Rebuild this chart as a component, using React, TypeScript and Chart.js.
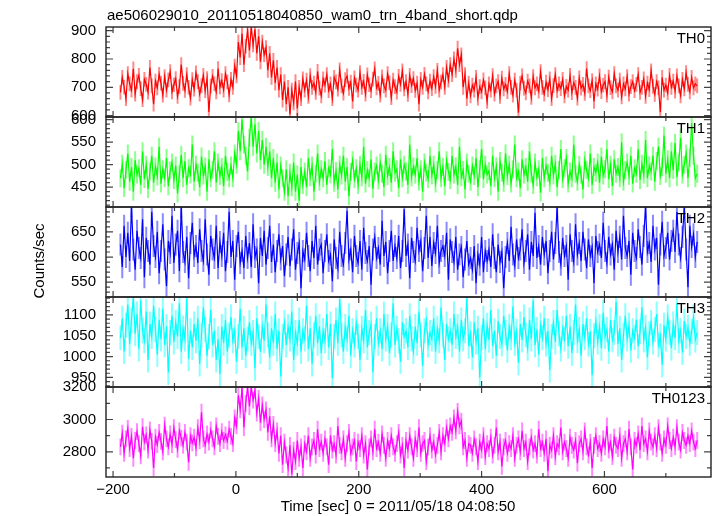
import React, { useEffect, useRef } from "react";
import { Chart, registerables } from "chart.js";

Chart.register(...registerables);

const TITLE = "ae506029010_20110518040850_wam0_trn_4band_short.qdp";
const X_TITLE = "Time [sec] 0 = 2011/05/18 04:08:50";
const Y_TITLE = "Counts/sec";
const PANEL_NAMES = ["TH0", "TH1", "TH2", "TH3", "TH0123"];

// time bins (sec)
const TIME_START = -188;
const TIME_STEP = 3;

const TH0 = [
  682, 735, 701, 660, 748, 712, 690, 765, 676, 720,
  742, 695, 656, 728, 710, 683, 770, 705, 640, 722,
  698, 746, 715, 672, 738, 690, 726, 755, 684, 709,
  731, 668, 702, 780, 714, 689, 745, 700, 662, 727,
  693, 751, 720, 676, 706, 742, 688, 731, 613, 704,
  739, 712, 684, 766, 701, 724, 690, 748, 719, 673,
  728, 700, 775, 740, 860, 805, 890, 780, 845, 900,
  830, 912, 850, 905, 820, 880, 790, 860, 815, 840,
  760, 820, 735, 795, 715, 770, 690, 745, 655, 720,
  640, 700, 605, 690, 645, 720, 625, 700, 660, 730,
  690, 725, 668, 741, 700, 715, 682, 756, 697, 670,
  730, 708, 745, 688, 712, 660, 735, 719, 693, 762,
  705, 679, 727, 740, 696, 718, 650, 733, 708, 690,
  752, 700, 721, 676, 744, 709, 688, 729, 765, 698,
  714, 672, 737, 705, 690, 748, 716, 663, 725, 702,
  683, 739, 710, 758, 694, 720, 675, 742, 706, 731,
  689, 715, 640, 728, 700, 746, 712, 684, 722, 695,
  738, 703, 760, 690, 718, 745, 700, 770, 725, 780,
  745, 800, 760, 838, 780, 815, 700, 745, 660, 715,
  670, 708, 690, 735, 662, 702, 684, 726, 698, 650,
  712, 690, 741, 676, 705, 720, 668, 732, 694, 710,
  685, 748, 700, 672, 725, 690, 610, 715, 740, 697,
  680, 722, 705, 664, 738, 698, 712, 686, 755, 700,
  676, 718, 692, 730, 660, 706, 745, 688, 712, 695,
  728, 670, 703, 690, 742, 681, 716, 700, 662, 733,
  697, 710, 678, 766, 705, 688, 724, 650, 712, 693,
  740, 685, 708, 720, 672, 736, 699, 684, 748, 705,
  690, 725, 666, 712, 694, 738, 676, 702, 720, 688,
  710, 745, 682, 700, 730, 668, 715, 692, 758, 703,
  675, 720, 698, 612, 735, 690, 708, 680, 742, 700,
  722, 686, 740, 705, 670, 728, 694, 752, 710, 684,
  735, 698, 712, 705,
];

const TH1 = [
  470, 502, 448, 488, 525, 462, 495, 440, 510, 478,
  492, 455, 530, 468, 500, 446, 485, 520, 460, 496,
  474, 540, 458, 490, 470, 515, 452, 487, 505, 466,
  498, 436, 480, 522, 470, 508, 455, 492, 478, 545,
  462, 500, 482, 450, 518, 476, 496, 440, 512, 470,
  488, 530, 460, 505, 475, 495, 452, 520, 484, 470,
  498, 470, 525, 500, 575, 530, 600, 545, 520, 485,
  560, 604, 540, 590, 525, 575, 510, 555, 500, 540,
  495, 530, 470, 515, 460, 505, 445, 498, 470, 440,
  490, 430, 482, 450, 505, 440, 478, 420, 495, 455,
  485, 450, 515, 472, 498, 440, 480, 525, 462, 490,
  470, 508, 455, 492, 478, 535, 460, 486, 445, 500,
  476, 520, 462, 495, 430, 484, 510, 468, 492, 455,
  500, 472, 540, 458, 488, 470, 512, 446, 485, 498,
  465, 505, 480, 450, 522, 475, 495, 460, 530, 482,
  490, 448, 512, 470, 500, 485, 455, 545, 472, 496,
  478, 515, 462, 490, 440, 505, 482, 468, 520, 476,
  500, 458, 488, 530, 470, 495, 452, 510, 484, 466,
  520, 478, 496, 455, 540, 472, 488, 445, 505, 480,
  462, 498, 475, 515, 450, 490, 535, 468, 500, 478,
  486, 452, 520, 470, 496, 440, 508, 482, 460, 525,
  475, 500, 458, 490, 545, 470, 485, 448, 512, 478,
  495, 462, 530, 480, 455, 505, 472, 490, 438, 515,
  470, 498, 482, 460, 520, 476, 502, 450, 488, 535,
  468, 492, 515, 458, 485, 470, 545, 480, 462, 500,
  478, 445, 510, 488, 470, 525, 455, 495, 482, 505,
  460, 518, 476, 490, 535, 468, 500, 452, 512, 480,
  495, 470, 550, 462, 488, 505, 475, 520, 458, 492,
  480, 535, 466, 502, 478, 555, 470, 498, 485, 520,
  462, 508, 540, 475, 495, 565, 480, 512, 470, 530,
  488, 548, 472, 505, 560, 478, 500, 525, 470, 515,
  592, 520, 470, 480,
];

const TH2 = [
  625, 580, 662, 600, 648, 592, 700, 615, 575, 652,
  618, 598, 675, 560, 638, 612, 585, 690, 622, 600,
  650, 568, 612, 665, 595, 542, 632, 608, 682, 588,
  625, 652, 572, 700, 610, 590, 640, 558, 628, 668,
  602, 622, 588, 655, 612, 592, 675, 605, 565, 642,
  615, 598, 662, 578, 630, 602, 648, 572, 610, 690,
  600, 632, 555, 622, 650, 588, 612, 578, 642, 598,
  628, 580, 665, 600, 615, 548, 638, 602, 652, 585,
  618, 662, 590, 625, 570, 612, 645, 595, 622, 562,
  605, 640, 582, 615, 655, 575, 608, 628, 538, 612,
  595, 648, 602, 572, 632, 598, 662, 585, 615, 625,
  568, 612, 645, 592, 605, 552, 635, 598, 578, 650,
  602, 585, 628, 692, 595, 615, 570, 642, 602, 588,
  632, 575, 658, 608, 592, 622, 545, 615, 640, 598,
  618, 585, 672, 602, 630, 568, 612, 652, 592, 622,
  598, 642, 578, 612, 695, 602, 625, 558, 638, 610,
  592, 658, 612, 632, 572, 618, 682, 598, 640, 582,
  628, 608, 662, 588, 612, 622, 602, 648, 555, 635,
  610, 590, 640, 575, 605, 620, 560, 595, 632, 585,
  598, 575, 622, 548, 605, 585, 640, 570, 612, 592,
  615, 580, 645, 598, 570, 625, 590, 610, 538, 600,
  628, 592, 660, 605, 582, 635, 598, 615, 655, 588,
  612, 645, 575, 630, 602, 688, 598, 622, 585, 640,
  605, 632, 568, 612, 650, 595, 628, 700, 610, 585,
  638, 602, 622, 555, 645, 612, 590, 665, 605, 628,
  592, 650, 615, 578, 635, 602, 620, 548, 642, 610,
  625, 598, 668, 612, 588, 640, 605, 625, 575, 652,
  610, 640, 595, 682, 618, 602, 632, 565, 648, 612,
  598, 655, 620, 585, 642, 700, 610, 628, 590, 662,
  615, 638, 545, 625, 670, 602, 618, 648, 595, 632,
  652, 610, 690, 625, 598, 640, 700, 615, 540, 662,
  620, 645, 600, 630,
];

const TH3 = [
  1045, 1092, 1012, 1075, 1125, 1030, 1088, 1142, 1055, 1102,
  1018, 1135, 1062, 1038, 1108, 992, 1078, 1048, 1122, 1065,
  1005, 1088, 1042, 1115, 1028, 1072, 962, 1058, 1098, 1035,
  1082, 1048, 1128, 1012, 1068, 1042, 1140, 995, 1062, 1022,
  1078, 1038, 1092, 982, 1052, 1118, 1065, 1002, 1048, 1112,
  1028, 1062, 992, 1042, 958, 1072, 1032, 1088, 1012, 1052,
  1095, 1038, 1062, 988, 1048, 1115, 1022, 1068, 1002, 1042,
  1082, 1032, 1058, 972, 1092, 1048, 1012, 1072, 1038, 1125,
  1052, 998, 1068, 1032, 1102, 1018, 1062, 952, 1048, 1082,
  1028, 1072, 1042, 1108, 992, 1058, 1032, 1088, 1012, 1062,
  1042, 1122, 1018, 1068, 982, 1052, 1098, 1032, 1072, 1008,
  1062, 1038, 1102, 1022, 1078, 948, 1048, 1088, 1032, 1138,
  1052, 1012, 1072, 1042, 1098, 1002, 1062, 1028, 1082, 1048,
  992, 1068, 1038, 1112, 1022, 1058, 1078, 962, 1048, 1092,
  1032, 1062, 1018, 1102, 1042, 1072, 1008, 1052, 1128, 1028,
  1068, 1038, 988, 1082, 1048, 1062, 1022, 1098, 1042, 1012,
  1072, 1032, 1108, 1052, 978, 1062, 1088, 1028, 1058, 1042,
  1092, 1012, 1068, 1038, 1118, 1052, 992, 1078, 1042, 1062,
  1028, 1102, 1048, 1072, 1012, 1088, 1042, 1062, 1140, 1025,
  1055, 998, 1082, 1035, 1068, 950, 1045, 1092, 1018, 1075,
  1040, 1112, 1025, 1062, 1002, 1085, 1048, 1030, 1098, 1058,
  1015, 1072, 1045, 1120, 1032, 1060, 985, 1078, 1040, 1095,
  1052, 1020, 1088, 1042, 1135, 1028, 1065, 1005, 1075, 1045,
  1092, 1030, 1062, 968, 1048, 1082, 1035, 1112, 1055, 1018,
  1068, 1042, 1098, 1025, 1072, 1008, 1058, 1125, 1038, 1065,
  1002, 1078, 1045, 1092, 1030, 1060, 955, 1050, 1085, 1035,
  1072, 1020, 1105, 1048, 1065, 1012, 1088, 1040, 1058, 1132,
  1030, 1068, 992, 1052, 1098, 1042, 1075, 1015, 1062, 1045,
  1088, 1025, 1060, 1118, 1040, 1070, 998, 1055, 1082, 1035,
  1065, 1102, 1028, 1050, 980, 1075, 1042, 1095, 1058, 1020,
  1078, 1045, 1128, 1038, 1062, 1010, 1085, 1048, 1070, 1032,
  1060, 1095, 1040, 1058,
];

const TH0123 = [
  2830, 2915, 2790, 2880, 2945, 2820, 2895, 2760, 2870, 2925,
  2850, 2775, 2955, 2860, 2905, 2810, 2935, 2865, 2700, 2890,
  2845, 2920, 2865, 2800, 2965, 2880, 2830, 2910, 2845, 2950,
  2875, 2815, 2930, 2885, 2840, 2920, 2860, 2735, 2900, 2855,
  2890, 2825, 2950, 2870, 3045, 2880, 2840, 2910, 2860, 2935,
  2880, 2830, 2960, 2895, 2850, 2925, 2870, 2905, 2865, 2940,
  2895, 2850, 3010, 2960, 3150, 3060, 3200, 2950, 3100, 3200,
  3080, 3200, 3120, 3180, 3040, 3130, 2980, 3090, 3000, 3060,
  2920, 3020, 2880, 2970, 2850, 2930, 2790, 2900, 2720, 2860,
  2780, 2700, 2840, 2660, 2810, 2740, 2870, 2760, 2830, 2700,
  2850, 2800, 2900, 2760, 2830, 2870, 2780, 2940, 2820, 2860,
  2790, 2880, 2830, 2720, 2900, 2810, 2850, 2780, 2960, 2840,
  2800, 2880, 2760, 2850, 2920, 2790, 2830, 2870, 2740, 2860,
  2820, 2900, 2780, 2850, 2690, 2830, 2880, 2800, 2940, 2820,
  2860, 2790, 2910, 2840, 2760, 2870, 2820, 2900, 2830, 2790,
  2850, 2920, 2780, 2840, 2700, 2870, 2810, 2900, 2830, 2760,
  2880, 2820, 2950, 2790, 2850, 2870, 2740, 2830, 2900, 2810,
  2860, 2780, 2840, 2920, 2800, 2900, 2850, 2950, 2880, 2960,
  2920, 3010, 2930, 3050, 2960, 2990, 2830, 2870, 2760, 2850,
  2840, 2790, 2880, 2830, 2740, 2860, 2810, 2900, 2770, 2850,
  2820, 2890, 2780, 2840, 2950, 2800, 2860, 2710, 2830, 2870,
  2790, 2850, 2820, 2900, 2760, 2840, 2880, 2800, 2930, 2820,
  2860, 2740, 2830, 2890, 2810, 2850, 2780, 2940, 2820, 2860,
  2790, 2880, 2680, 2840, 2810, 2900, 2770, 2850, 2830, 2950,
  2800, 2860, 2820, 2760, 2890, 2840, 2810, 2870, 2730, 2850,
  2880, 2800, 2930, 2830, 2780, 2860, 2700, 2840, 2900, 2820,
  2850, 2790, 2880, 2830, 2960, 2810, 2860, 2770, 2890, 2840,
  2820, 2900, 2760, 2850, 2880, 2800, 2940, 2830, 2690, 2870,
  2840, 2910, 2810, 2960, 2850, 2880, 2800, 2930, 2860, 2830,
  2900, 2820, 2950, 2860, 2790, 2880, 2840, 2960, 2870, 2820,
  2890, 2830, 2950, 2860, 2810, 2920, 2870, 2840, 2900, 2850,
  2930, 2860, 2820, 2870,
];

const SERIES = [TH0, TH1, TH2, TH3, TH0123];
const ERRORS = [26, 20, 22, 30, 52];

const TIME = TH0.map((_, i) => TIME_START + i * TIME_STEP);

// axis ranges and tick labels
const X_MIN = -211.5;
const X_MAX = 773.5;
const X_TICKS = [-200, 0, 200, 400, 600];
const X_MINOR_TICKS = [-200, -100, 0, 100, 200, 300, 400, 500, 600, 700];

const Y_MIN = [595, 406, 520.5, 927, 2644];
const Y_MAX = [913, 606, 699.5, 1143, 3201];
const Y_TICKS = [
  [600, 700, 800, 900],
  [450, 500, 550, 600],
  [550, 600, 650],
  [950, 1000, 1050, 1100],
  [2800, 3000, 3200],
];
const Y_MAJOR_STEP = [100, 50, 50, 50, 200];
const Y_MINOR_STEP = [20, 10, 10, 10, 100];

const COLORS = ["#ff0000", "#00ff00", "#0000ff", "#00ffff", "#ff00ff"];
const ERR_COLORS = ["#ff8a8a", "#8aff8a", "#8a8aff", "#8affff", "#ff8aff"];

const FONT = "'Liberation Sans', Arial, Helvetica, sans-serif";

const qdpPlugin = {
  id: "qdpPanels",
  beforeDatasetsDraw(chart: any) {
    const { ctx, chartArea: a } = chart;
    const xs = chart.scales.x;
    SERIES.forEach((vals, k) => {
      const ys = chart.scales["y" + k];
      ctx.save();
      ctx.beginPath();
      ctx.rect(a.left, ys.top, a.right - a.left, ys.bottom - ys.top);
      ctx.clip();
      ctx.strokeStyle = ERR_COLORS[k];
      ctx.lineWidth = 2;
      ctx.beginPath();
      vals.forEach((v, i) => {
        const x = xs.getPixelForValue(TIME[i]);
        ctx.moveTo(x, ys.getPixelForValue(v - ERRORS[k]));
        ctx.lineTo(x, ys.getPixelForValue(v + ERRORS[k]));
      });
      ctx.stroke();
      ctx.restore();
    });
  },
  beforeDatasetDraw(chart: any, args: any) {
    const { ctx, chartArea: a } = chart;
    const ys = chart.scales["y" + args.index];
    ctx.save();
    ctx.beginPath();
    ctx.rect(a.left, ys.top, a.right - a.left, ys.bottom - ys.top);
    ctx.clip();
  },
  afterDatasetDraw(chart: any) {
    chart.ctx.restore();
  },
  afterDraw(chart: any) {
    const { ctx, chartArea: a } = chart;
    const xs = chart.scales.x;
    ctx.save();
    SERIES.forEach((_, k) => {
      const ys = chart.scales["y" + k];
      const top = ys.top;
      const bottom = ys.bottom;
      ctx.strokeStyle = "#444";
      ctx.lineWidth = 1.2;
      ctx.beginPath();
      const step = Y_MINOR_STEP[k];
      const start = Math.ceil(Y_MIN[k] / step) * step;
      for (let v = start; v <= Y_MAX[k]; v += step) {
        const p = ys.getPixelForValue(v);
        const len = v % Y_MAJOR_STEP[k] === 0 ? 7 : 4;
        ctx.moveTo(a.left, p);
        ctx.lineTo(a.left + len, p);
        ctx.moveTo(a.right, p);
        ctx.lineTo(a.right - len, p);
      }
      X_MINOR_TICKS.forEach((v) => {
        const p = xs.getPixelForValue(v);
        const len = X_TICKS.includes(v) ? 6 : 4;
        ctx.moveTo(p, top);
        ctx.lineTo(p, top + len);
        ctx.moveTo(p, bottom);
        ctx.lineTo(p, bottom - len);
      });
      ctx.stroke();
      ctx.strokeStyle = "#222";
      ctx.lineWidth = 1.4;
      ctx.strokeRect(a.left, top, a.right - a.left, bottom - top);
      ctx.fillStyle = "#000";
      ctx.font = "15px " + FONT;
      ctx.textAlign = "right";
      ctx.textBaseline = "alphabetic";
      ctx.fillText(PANEL_NAMES[k], a.right - 6, top + 16);
    });
    ctx.fillStyle = "#000";
    ctx.font = "15px " + FONT;
    ctx.textAlign = "left";
    ctx.textBaseline = "alphabetic";
    ctx.fillText(TITLE, 107, 20);
    ctx.textAlign = "center";
    ctx.fillText(X_TITLE, 398, 511);
    ctx.save();
    ctx.translate(40, 261);
    ctx.rotate(-Math.PI / 2);
    ctx.textBaseline = "middle";
    ctx.fillText(Y_TITLE, 0, 0);
    ctx.restore();
    ctx.restore();
  },
};

export default function App() {
  const ref = useRef<HTMLCanvasElement>(null);
  useEffect(() => {
    const canvas = ref.current;
    if (!canvas) return;
    const yScales: any = {};
    SERIES.forEach((_, k) => {
      yScales["y" + k] = {
        type: "linear",
        position: "left",
        stack: "panels",
        stackWeight: 1,
        weight: SERIES.length - k,
        min: Y_MIN[k],
        max: Y_MAX[k],
        afterBuildTicks: (s: any) => {
          s.ticks = Y_TICKS[k].map((v) => ({ value: v }));
        },
        afterFit: (s: any) => {
          s.width = 106;
        },
        grid: { display: false, drawTicks: false },
        border: { display: false },
        ticks: {
          autoSkip: false,
          padding: 10,
          color: "#000",
          font: { size: 15, family: FONT },
          callback: (v: any) => String(v),
        },
      };
    });
    const chart = new Chart(canvas, {
      type: "line",
      data: {
        datasets: SERIES.map((vals, k) => ({
          label: PANEL_NAMES[k],
          data: vals.map((v, i) => ({ x: TIME[i], y: v })),
          xAxisID: "x",
          yAxisID: "y" + k,
          borderColor: COLORS[k],
          backgroundColor: COLORS[k],
          borderWidth: 1.2,
          pointRadius: 0,
          tension: 0,
          fill: false,
        })),
      },
      options: {
        responsive: false,
        animation: false,
        devicePixelRatio: 1,
        layout: { padding: { left: 0, right: 6, top: 27, bottom: 0 } },
        plugins: {
          legend: { display: false },
          tooltip: { enabled: false },
          title: { display: false },
        },
        scales: {
          x: {
            type: "linear",
            position: "bottom",
            min: X_MIN,
            max: X_MAX,
            afterBuildTicks: (s: any) => {
              s.ticks = X_TICKS.map((v) => ({ value: v }));
            },
            afterFit: (s: any) => {
              s.height = 39;
            },
            grid: { display: false, drawTicks: false },
            border: { display: false },
            ticks: {
              autoSkip: false,
              maxRotation: 0,
              padding: 4,
              color: "#000",
              font: { size: 15, family: FONT },
              callback: (v: any) => (v < 0 ? "\u2212" + Math.abs(v) : String(v)),
            },
          },
          ...yScales,
        },
      },
      plugins: [qdpPlugin],
    } as any);
    return () => chart.destroy();
  }, []);
  return (
    <div style={{ position: "fixed", left: 0, top: 0, width: 717, height: 516, background: "#fff" }}>
      <canvas ref={ref} width={717} height={516} style={{ display: "block", width: 717, height: 516 }} />
    </div>
  );
}
